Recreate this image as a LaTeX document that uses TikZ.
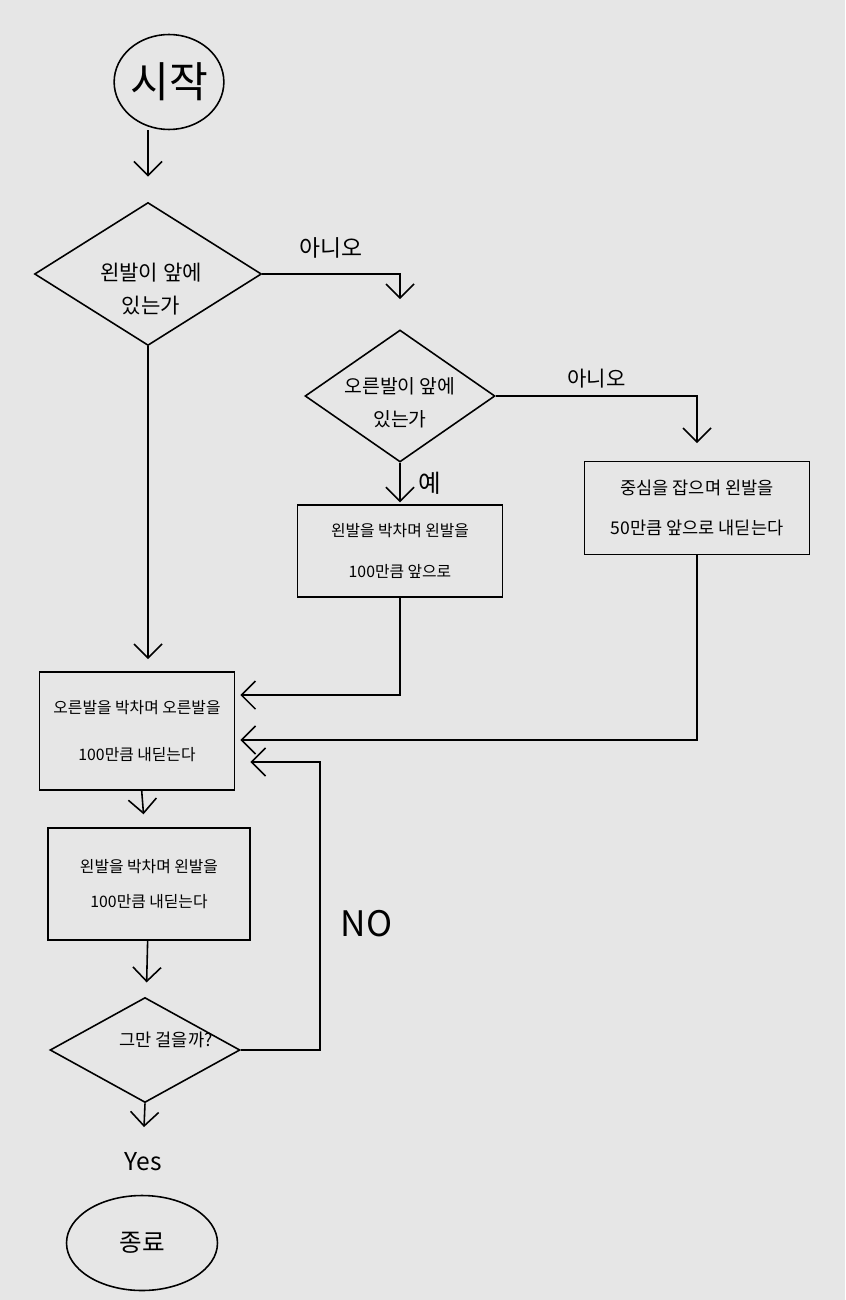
\documentclass[tikz,border=0pt]{standalone}
\usepackage{fontspec}
\newfontfamily\kr{Noto Sans CJK KR}
\usetikzlibrary{positioning,calc,shapes.geometric,arrows.meta}
\definecolor{paper}{HTML}{E6E6E6}

\begin{document}
\begin{tikzpicture}[x=0.02cm,y=-0.02cm,line width=0.9pt,font=\kr,
  every node/.style={inner sep=0pt},
  term/.style={draw,ellipse,minimum width=#1,minimum height=1.9cm},
  ask/.style={draw,diamond},
  act/.style={draw,rectangle,align=center,font={\kr\fontsize{9}{23}\selectfont}},
  go/.style={-{Straight Barb[length=8pt,width=16pt]},shorten >=#1},
  go/.default=1pt,
  tag/.style={font={\kr\fontsize{13}{13}\selectfont}}]
\fill[paper] (0,0) rectangle (845,1300);

% start / end
\node[term=2.16cm,font={\kr\fontsize{24}{24}\selectfont}] (start) at (169,82) {시작};
\node[term=3.02cm,font={\kr\fontsize{14}{14}\selectfont}] (stop) at (142,1243) {종료};

% questions
\node[ask,minimum width=4.54cm,minimum height=2.86cm,
  label={[align=center,xshift=0.06cm,yshift=-0.3cm,font={\kr\fontsize{12}{19}\selectfont}]center:왼발이 앞에\\있는가}] (d1) at (148,274) {};
\node[ask,minimum width=3.8cm,minimum height=2.64cm,
  label={[align=center,yshift=-0.14cm,font={\kr\fontsize{11}{19}\selectfont}]center:오른발이 앞에\\있는가}] (d2) at (400,396) {};
\node[ask,minimum width=3.8cm,minimum height=2.1cm,
  label={[xshift=0.42cm,yshift=0.2cm,font={\kr\fontsize{10}{12}\selectfont}]center:그만 걸을까?}] (d4) at (145,1050) {};

% steps
\node[act,minimum width=4.1cm,minimum height=1.84cm] (bL) at (400,551) {왼발을 박차며 왼발을\\100만큼 앞으로};
\node[act,minimum width=4.5cm,minimum height=1.86cm,font={\kr\fontsize{10}{23}\selectfont}] (bC) at (697,508) {중심을 잡으며 왼발을\\50만큼 앞으로 내딛는다};
\node[act,minimum width=3.9cm,minimum height=2.36cm,font={\kr\fontsize{9}{27}\selectfont}] (bR) at (137,731) {오른발을 박차며 오른발을\\100만큼 내딛는다};
\node[act,minimum width=4.04cm,minimum height=2.24cm,font={\kr\fontsize{9}{20}\selectfont}] (bW) at (149,884) {왼발을 박차며 왼발을\\100만큼 내딛는다};
\node[tag,font={\kr\fontsize{14}{14}\selectfont}] (yes) at (143,1162) {Yes};

% flow
\draw[go=0.5cm] (d1.north |- start.south) -- (d1.north);
\draw[go=0.6cm] (d1.east) -| node[tag,pos=0.25,above=0.3cm] {아니오} (d2.north);
\draw[go=0.35cm] (d2.east) -| node[tag,pos=0.25,above=0.15cm,font={\kr\fontsize{12}{12}\selectfont}] {아니오} (bC.north);
\draw[go] (d2.south) -- node[tag,right=0.35cm,font={\kr\fontsize{14}{14}\selectfont}] {예} (bL.north);
\draw[go=0.24cm] (d1.south) -- (d1.south |- bR.north);
\draw[go=0.1cm] (bL.south) |- ([yshift=0.72cm]bR.east);
\draw[go=0.1cm] (bC.south) |- ([yshift=-0.18cm]bR.east);
\draw[go=0.26cm] (bR) -- (bW);
\draw[go=0.3cm] (bW) -- (d4);
\draw[go=0.3cm] (d4.east) -| node[pos=0.72,right=0.4cm,font={\kr\fontsize{20}{20}\selectfont}] {NO} (320,762) -- ([yshift=-0.62cm]bR.east);
\draw[go=0.5cm] (d4.south) -- (yes.north);

\end{tikzpicture}
\end{document}
